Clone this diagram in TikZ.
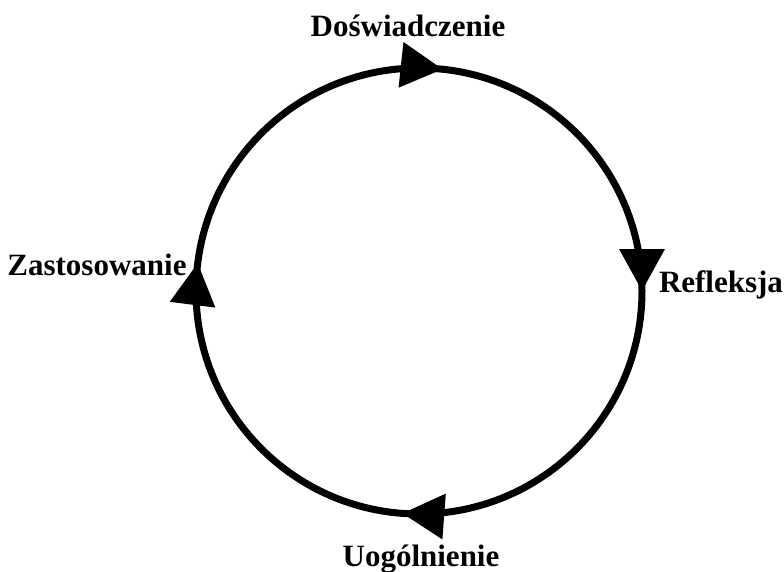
\documentclass[tikz,border=0pt]{standalone}
\usepackage{fontspec}
\setmainfont{Liberation Serif}
\usetikzlibrary{calc,arrows.meta,decorations.markings}
\newcommand*{\rad}{223}
\tikzset{
  stage/.style={font=\bfseries\fontsize{31}{34}\selectfont, inner sep=0pt, anchor=base},
  cycle/.style={line width=7pt, postaction={decorate}, decoration={markings,
    mark=at position 0.02 with {\arrow{Triangle[length=42pt,width=44pt]}},
    mark=at position 0.267 with {\arrow{Triangle[length=42pt,width=44pt]}},
    mark=at position 0.5 with {\arrow{Triangle[length=42pt,width=44pt]}},
    mark=at position 0.762 with {\arrow{Triangle[length=42pt,width=44pt]}}}}
}

\begin{document}
\begin{tikzpicture}[x=1pt,y=-1pt]
  \useasboundingbox (0,0) rectangle (784,572);
  \coordinate (c) at (419,291);
  % cycle, drawn clockwise from the left
  \draw [cycle] ($(c)+(-\rad,0)$) arc [start angle=180, end angle=540, radius=\rad];
  \node [stage] (exp) at (408,37) {Doświadczenie};
  \node [stage] (ref) at (721,292) {Refleksja};
  \node [stage] (gen) at (421,566) {Uogólnienie};
  \node [stage] (app) at (97,275) {Zastosowanie};
\end{tikzpicture}
\end{document}
